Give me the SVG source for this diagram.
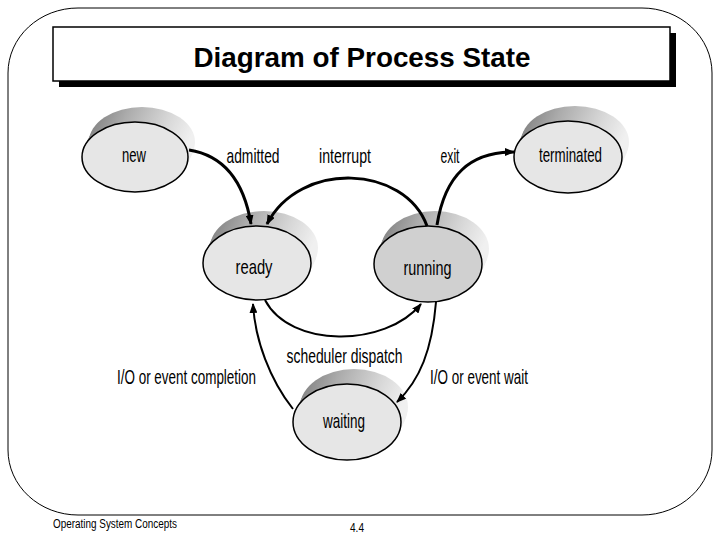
<svg xmlns="http://www.w3.org/2000/svg" width="720" height="540" viewBox="0 0 720 540">
<defs>
<linearGradient id="sh" x1="0" y1="0" x2="1" y2="0.3">
<stop offset="0" stop-color="#777"/>
<stop offset="0.35" stop-color="#ababab"/>
<stop offset="0.75" stop-color="#d9d9d9"/>
<stop offset="1" stop-color="#f0f0f0"/>
</linearGradient>
<marker id="ah" markerWidth="10" markerHeight="8" refX="9" refY="4" orient="auto" markerUnits="userSpaceOnUse">
<path d="M0,0 L10,4 L0,8 Z" fill="#000"/>
</marker>
</defs>
<style>
.frame{fill:none;stroke:#000;stroke-width:1}
.sh{fill:url(#sh);stroke:none}
.node{fill:#e6e6e6;stroke:#000;stroke-width:1.5}
.dark{fill:#d0d0d0}
.lbl{font-family:"Liberation Sans",Arial,sans-serif;font-size:21px;fill:#000;text-anchor:middle}
.title{font-family:"Liberation Sans",Arial,sans-serif;font-size:27px;font-weight:bold;fill:#000;text-anchor:middle}
.foot{font-family:"Liberation Sans",Arial,sans-serif;font-size:12px;fill:#000}
.c{fill:none;stroke:#000;marker-end:url(#ah)}
.thick{stroke-width:3}
.thin{stroke-width:2}
</style>
<rect width="720" height="540" fill="#fff"/>
<path class="frame" d="M78,8 H642 A70,65 0 0 1 712,73 V450 A70,65 0 0 1 642,515 H78 A70,65 0 0 1 8,450 V73 A70,65 0 0 1 78,8 Z"/>
<g id="title">
<rect x="59" y="33" width="617" height="54" fill="#000"/>
<rect x="53" y="27" width="617" height="54" fill="#fff" stroke="#000" stroke-width="1.5"/>
<text class="title" x="362" y="67" textLength="337" lengthAdjust="spacingAndGlyphs">Diagram of Process State</text>
</g>
<g id="node-new">
<ellipse class="sh" cx="137" cy="153" rx="53" ry="35"/>
<ellipse class="sh" cx="139" cy="149" rx="53" ry="35"/>
<ellipse class="sh" cx="141" cy="145" rx="53" ry="35"/>
<ellipse class="sh" cx="142" cy="142" rx="53" ry="35"/>
<ellipse class="node" cx="135" cy="157" rx="53" ry="35"/>
<text class="lbl" x="134" y="162" textLength="24" lengthAdjust="spacingAndGlyphs">new</text>
</g>
<g id="node-terminated">
<ellipse class="sh" cx="570" cy="153" rx="54" ry="36"/>
<ellipse class="sh" cx="572" cy="149" rx="54" ry="36"/>
<ellipse class="sh" cx="574" cy="145" rx="54" ry="36"/>
<ellipse class="sh" cx="575" cy="142" rx="54" ry="36"/>
<ellipse class="node" cx="568" cy="157" rx="54" ry="36"/>
<text class="lbl" x="570.5" y="162" textLength="63" lengthAdjust="spacingAndGlyphs">terminated</text>
</g>
<g id="node-ready">
<ellipse class="sh" cx="259" cy="259" rx="54" ry="37"/>
<ellipse class="sh" cx="261" cy="255" rx="54" ry="37"/>
<ellipse class="sh" cx="263" cy="251" rx="54" ry="37"/>
<ellipse class="sh" cx="264" cy="248" rx="54" ry="37"/>
<ellipse class="node" cx="257" cy="263" rx="54" ry="37"/>
<text class="lbl" x="254" y="274" textLength="37" lengthAdjust="spacingAndGlyphs">ready</text>
</g>
<g id="node-running">
<ellipse class="sh" cx="430" cy="260" rx="54" ry="38"/>
<ellipse class="sh" cx="432" cy="256" rx="54" ry="38"/>
<ellipse class="sh" cx="434" cy="252" rx="54" ry="38"/>
<ellipse class="sh" cx="435" cy="249" rx="54" ry="38"/>
<ellipse class="node dark" cx="428" cy="264" rx="54" ry="38"/>
<text class="lbl" x="427.5" y="275" textLength="48" lengthAdjust="spacingAndGlyphs">running</text>
</g>
<g id="node-waiting">
<ellipse class="sh" cx="349" cy="418" rx="54" ry="38"/>
<ellipse class="sh" cx="351" cy="414" rx="54" ry="38"/>
<ellipse class="sh" cx="353" cy="410" rx="54" ry="38"/>
<ellipse class="sh" cx="354" cy="407" rx="54" ry="38"/>
<ellipse class="node" cx="347" cy="422" rx="54" ry="38"/>
<text class="lbl" x="344" y="428" textLength="42" lengthAdjust="spacingAndGlyphs">waiting</text>
</g>
<g id="connectors">
<path class="c thick" d="M189,150 Q240,158 251,224"/>
<path class="c thick" d="M427,226 C405,165 300,160 267,224"/>
<path class="c thick" d="M437,225 C445,175 470,152 514,152"/>
<path class="c thin" d="M265,300 C290,348 385,348 421,304"/>
<path class="c thin" d="M293,409 C270,380 255,340 253,304"/>
<path class="c thin" d="M436,302 C432,350 420,380 397,402"/>
</g>
<g id="labels">
<text class="lbl" x="253" y="163" textLength="53" lengthAdjust="spacingAndGlyphs">admitted</text>
<text class="lbl" x="345" y="163" textLength="52" lengthAdjust="spacingAndGlyphs">interrupt</text>
<text class="lbl" x="450" y="163" textLength="19" lengthAdjust="spacingAndGlyphs">exit</text>
<text class="lbl" x="344.5" y="363" textLength="116" lengthAdjust="spacingAndGlyphs">scheduler dispatch</text>
<text class="lbl" x="186.5" y="384" textLength="139" lengthAdjust="spacingAndGlyphs">I/O or event completion</text>
<text class="lbl" x="479" y="384" textLength="98" lengthAdjust="spacingAndGlyphs">I/O or event wait</text>
</g>
<g id="footer">
<text class="foot" x="53" y="528" textLength="124" lengthAdjust="spacingAndGlyphs">Operating System Concepts</text>
<text class="foot" x="350" y="532" textLength="14" lengthAdjust="spacingAndGlyphs">4.4</text>
</g>
</svg>
